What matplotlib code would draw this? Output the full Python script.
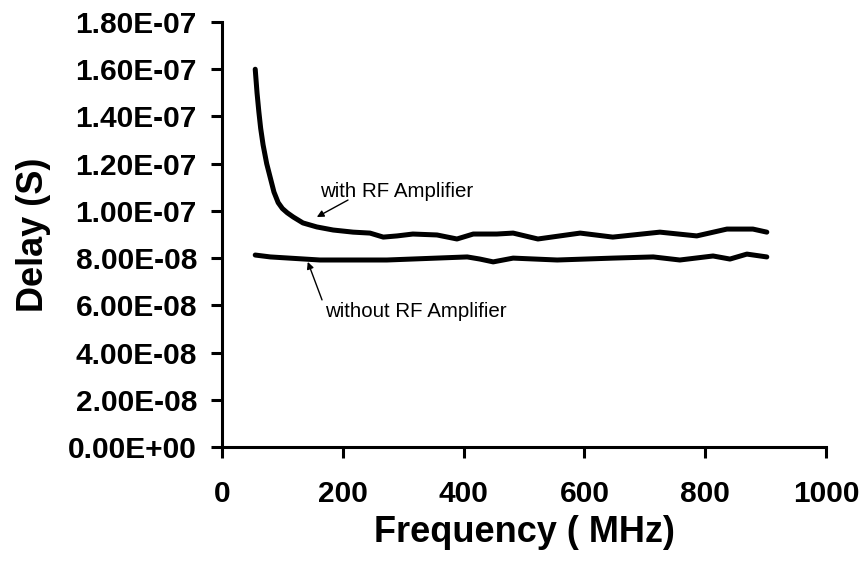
import matplotlib
matplotlib.use("Agg")
import matplotlib.pyplot as plt
from matplotlib.ticker import FuncFormatter, MultipleLocator

plt.rcParams['font.family'] = ['Liberation Sans', 'DejaVu Sans']

# Data (frequency in MHz, delay in seconds)
with_freq = [55, 58, 61, 64, 68, 74, 80, 86, 93, 100, 108, 118, 134, 157, 184, 217, 245,
             267, 290, 316, 356, 389, 416, 455, 482, 523, 593, 647, 725, 786, 836, 879, 902]
with_delay = [16.0e-8, 15.0e-8, 14.2e-8, 13.5e-8, 12.8e-8, 12.0e-8, 11.4e-8, 10.8e-8,
              10.35e-8, 10.1e-8, 9.92e-8, 9.74e-8, 9.49e-8, 9.32e-8, 9.19e-8, 9.10e-8, 9.06e-8,
              8.89e-8, 8.94e-8, 9.02e-8, 8.98e-8, 8.81e-8, 9.02e-8, 9.02e-8, 9.06e-8, 8.81e-8,
              9.06e-8, 8.89e-8, 9.10e-8, 8.94e-8, 9.23e-8, 9.23e-8, 9.10e-8]

without_freq = [55, 80, 162, 273, 406, 427, 449, 482, 555, 647, 714, 758, 813, 841, 869, 902]
without_delay = [8.13e-8, 8.05e-8, 7.92e-8, 7.92e-8, 8.05e-8, 7.96e-8, 7.84e-8, 8.0e-8,
                 7.92e-8, 8.0e-8, 8.05e-8, 7.92e-8, 8.09e-8, 7.96e-8, 8.17e-8, 8.05e-8]

x_ticks = [0, 200, 400, 600, 800, 1000]

fig = plt.figure(figsize=(8.64, 5.69), dpi=100)
ax = fig.add_axes([222/864, 1-447/569, (826-222)/864, (447-22)/569])

ax.plot(with_freq, with_delay, color='black', lw=3.6, solid_capstyle='round', solid_joinstyle='round')
ax.plot(without_freq, without_delay, color='black', lw=3.6, solid_capstyle='round', solid_joinstyle='round')

ax.set_xlim(0, 1000)
ax.set_ylim(0, 1.8e-7)
ax.set_xticks(x_ticks)
ax.yaxis.set_major_locator(MultipleLocator(2e-8))
ax.yaxis.set_major_formatter(FuncFormatter(lambda v, p: f"{v:.2E}"))

for s in ['top', 'right']:
    ax.spines[s].set_visible(False)
for s in ['left', 'bottom']:
    ax.spines[s].set_linewidth(2.2)
    ax.spines[s].set_clip_on(False)

ax.tick_params(axis='both', direction='out', length=8, width=2.2, labelsize=21.5)
ax.tick_params(axis='y', pad=10)
ax.tick_params(axis='x', pad=16)
for lab in ax.get_xticklabels() + ax.get_yticklabels():
    lab.set_fontweight('bold')

ax.set_xlabel('Frequency ( MHz)', fontsize=26, fontweight='bold', labelpad=5)
ax.set_ylabel('Delay (S)', fontsize=26, fontweight='bold', labelpad=12)

ax.text(162, 10.59e-8, 'with RF Amplifier', fontsize=14.8, ha='left', va='baseline')
ax.annotate('', xy=(157, 9.74e-8), xytext=(208.6, 10.46e-8),
            arrowprops=dict(arrowstyle='-|>', color='black', lw=1.0,
                            mutation_scale=10, shrinkA=0, shrinkB=0))
ax.text(170, 5.5e-8, 'without RF Amplifier', fontsize=14.8, ha='left', va='baseline')
ax.annotate('', xy=(142, 7.84e-8), xytext=(165.6, 6.23e-8),
            arrowprops=dict(arrowstyle='-|>', color='black', lw=1.0,
                            mutation_scale=10, shrinkA=0, shrinkB=0))

fig.savefig('out.png', dpi=100)
